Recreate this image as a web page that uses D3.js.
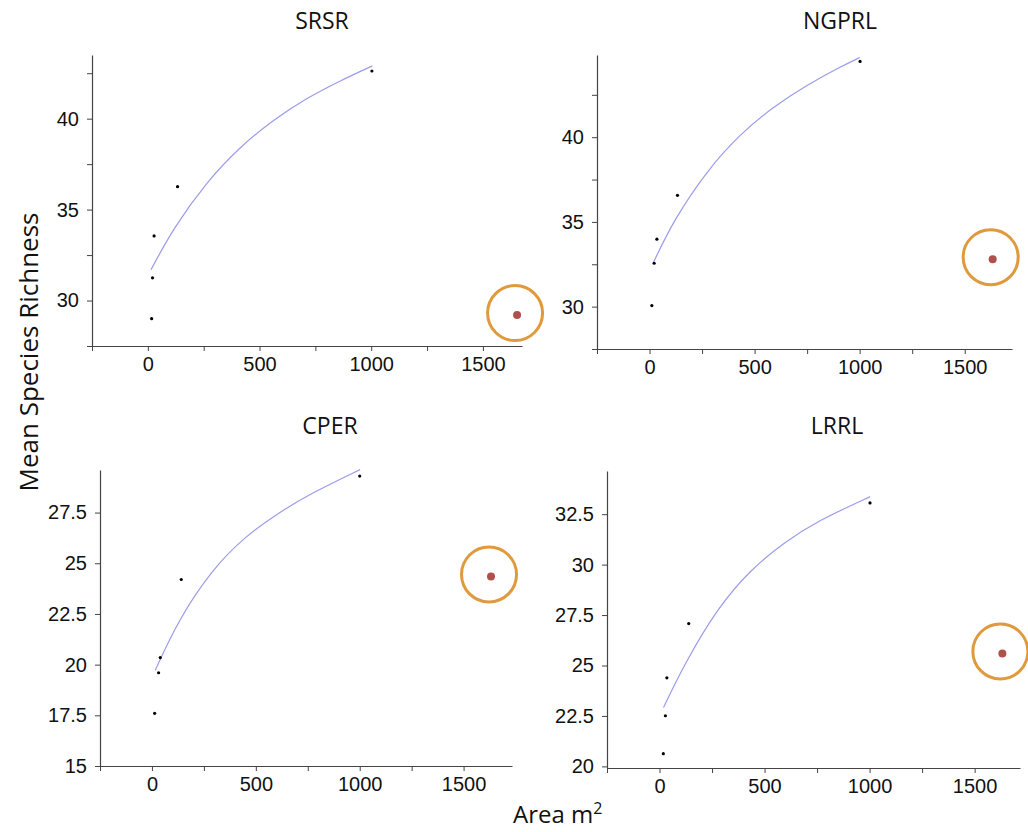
<!DOCTYPE html>
<html>
<head>
<meta charset="utf-8">
<script src="https://cdn.jsdelivr.net/npm/d3@7.9.0/dist/d3.min.js"></script>
<style>
  body { margin: 0; background: #fff; }
  svg { font-family: "Open Sans", sans-serif; }
  .axis path, .axis line { stroke: #444; }
  .axis text { font-size: 20px; fill: #111; }
</style>
</head>
<body>
<svg width="1028" height="832"></svg>
<script>
// values
const sites = ["SRSR", "NGPRL", "CPER", "LRRL"];

const plotArea = [
  [17, 21, 28, 133, 1003],
  [11, 22, 35, 133, 1002],
  [13, 32, 40, 141, 1000],
  [18, 28, 35, 139, 1002]
];
const plotRichness = [
  [29.0, 31.25, 33.55, 36.26, 42.62],
  [30.06, 32.56, 33.98, 36.57, 44.47],
  [17.6, 19.6, 20.35, 24.2, 29.3],
  [20.63, 22.51, 24.39, 27.08, 33.06]
];

const outlierArea = [1653, 1633, 1632, 1632];
const outlierRichness = [29.2, 32.8, 24.35, 25.6];

// fitted curve, read at a few areas
const fitArea = [
  [14, 114, 264, 413, 563, 713, 863, 1005],
  [19, 114, 273, 432, 590, 750, 908, 1000],
  [16, 128, 289, 449, 609, 770, 1002],
  [19, 118, 277, 435, 592, 751, 1003]
];
const fitRichness = [
  [31.69, 33.98, 36.54, 38.46, 39.95, 41.15, 42.1, 42.9],
  [32.62, 35.08, 38.03, 40.2, 41.8, 43.08, 44.15, 44.7],
  [19.72, 22.22, 24.69, 26.33, 27.49, 28.47, 29.62],
  [22.92, 25.06, 27.87, 29.77, 31.09, 32.16, 33.37]
];

const xTickLabels = [0, 500, 1000, 1500];
const xTickAll = [-250, 0, 250, 500, 750, 1000, 1250, 1500];
const yTickLabels = [
  [30, 35, 40],
  [30, 35, 40],
  [15, 17.5, 20, 22.5, 25, 27.5],
  [20, 22.5, 25, 27.5, 30, 32.5]
];
const yTickAll = [
  [27.5, 30, 32.5, 35, 37.5, 40, 42.5],
  [27.5, 30, 32.5, 35, 37.5, 40, 42.5],
  [15, 17.5, 20, 22.5, 25, 27.5],
  [20, 22.5, 25, 27.5, 30, 32.5]
];

// panel frames in pixels
const frames = [
  { l: 92, r: 522, t: 55, b: 346, xMax: 1675, yMin: 27.5, yMax: 43.5, tx: 322, ty: 29 },
  { l: 597, r: 1012, t: 55, b: 349, xMax: 1725, yMin: 27.5, yMax: 44.85, tx: 840, ty: 29 },
  { l: 100, r: 512, t: 470, b: 766, xMax: 1733, yMin: 15, yMax: 29.6, tx: 330, ty: 434 },
  { l: 607, r: 1020, t: 471, b: 768, xMax: 1716, yMin: 19.92, yMax: 34.64, tx: 837, ty: 434 }
];

const svg = d3.select("svg");

sites.forEach((site, i) => {
  const f = frames[i];
  const x = d3.scaleLinear().domain([-250, f.xMax]).range([f.l, f.r]);
  const y = d3.scaleLinear().domain([f.yMin, f.yMax]).range([f.b, f.t]);
  const g = svg.append("g");

  g.append("g")
    .attr("class", "axis")
    .attr("transform", `translate(0,${f.b})`)
    .call(d3.axisBottom(x).tickValues(xTickAll).tickSize(5).tickSizeOuter(0).tickPadding(6)
      .tickFormat(d => xTickLabels.includes(d) ? d : ""));

  g.append("g")
    .attr("class", "axis")
    .attr("transform", `translate(${f.l},0)`)
    .call(d3.axisLeft(y).tickValues(yTickAll[i]).tickSize(5).tickSizeOuter(0).tickPadding(8)
      .tickFormat(d => yTickLabels[i].includes(d) ? d : ""));

  g.selectAll(".axis .domain").attr("stroke-width", 1.2);

  const fit = fitArea[i].map((a, j) => [a, fitRichness[i][j]]);
  g.append("path")
    .datum(fit)
    .attr("fill", "none")
    .attr("stroke", "#9a9cec")
    .attr("stroke-width", 1.2)
    .attr("d", d3.line().x(d => x(d[0])).y(d => y(d[1])).curve(d3.curveBasis));

  g.selectAll("circle.pt")
    .data(plotArea[i].map((a, j) => [a, plotRichness[i][j]]))
    .join("circle")
    .attr("class", "pt")
    .attr("cx", d => x(d[0]))
    .attr("cy", d => y(d[1]))
    .attr("r", 1.6)
    .attr("fill", "#000");

  g.append("circle")
    .attr("cx", x(outlierArea[i]))
    .attr("cy", y(outlierRichness[i]))
    .attr("r", 4)
    .attr("fill", "#b0504a");

  g.append("circle")
    .attr("cx", x(outlierArea[i]) - 2)
    .attr("cy", y(outlierRichness[i]) - 2)
    .attr("r", 27.5)
    .attr("fill", "none")
    .attr("stroke", "#e09a3e")
    .attr("stroke-width", 3);

  svg.append("text")
    .attr("x", f.tx)
    .attr("y", f.ty)
    .attr("text-anchor", "middle")
    .attr("font-size", 23)
    .attr("fill", "#111")
    .text(site);
});

svg.append("text")
  .attr("transform", "translate(38,352) rotate(-90)")
  .attr("text-anchor", "middle")
  .attr("font-size", 26)
  .attr("fill", "#111")
  .text("Mean Species Richness");

const xl = svg.append("text")
  .attr("x", 513)
  .attr("y", 823)
  .attr("font-size", 24)
  .attr("fill", "#111");
xl.append("tspan").text("Area m");
xl.append("tspan").attr("font-size", 16).attr("dy", -9).text("2");
</script>
</body>
</html>
